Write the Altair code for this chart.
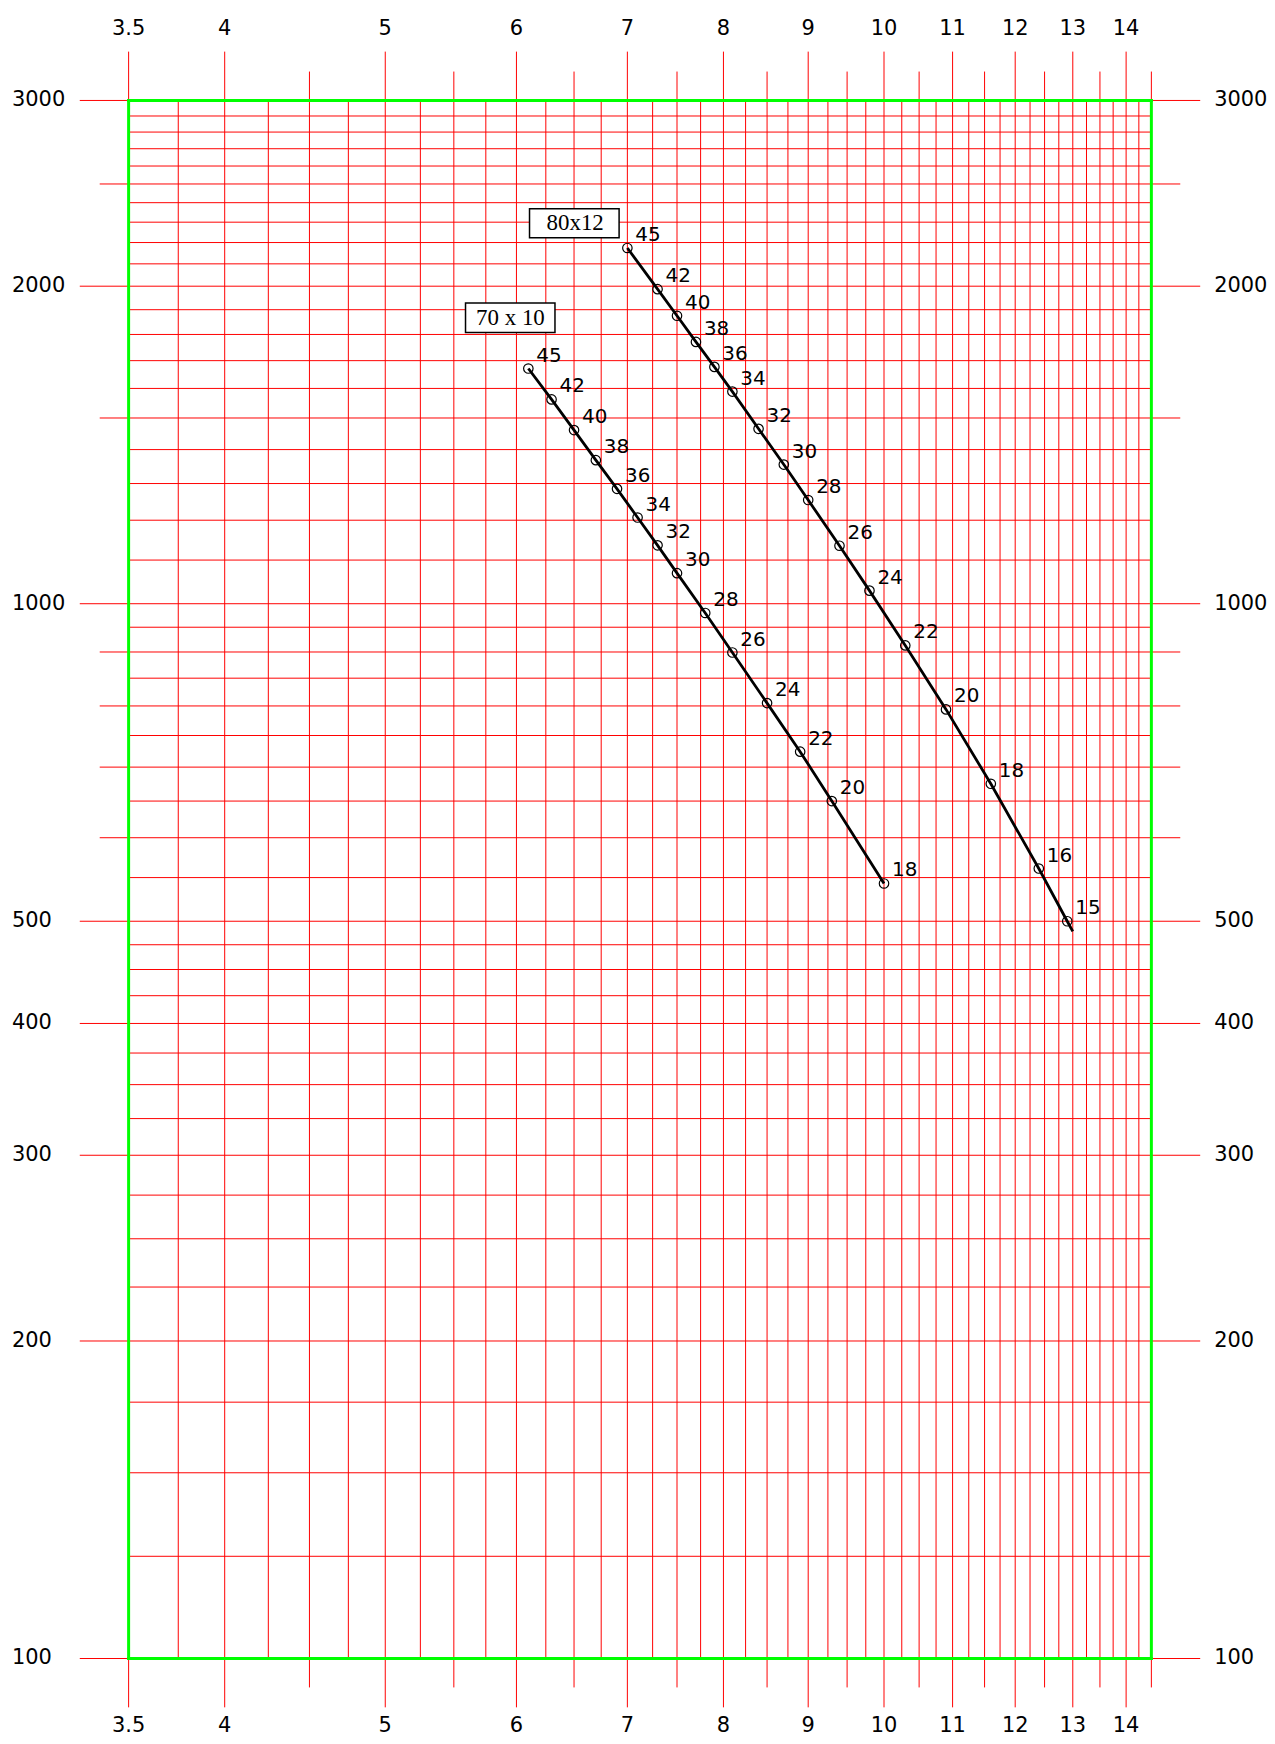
import altair as alt
import pandas as pd

W, H = 1026, 1563

# ---- grid values ----
x_major = [3.5, 4, 5, 6, 7, 8, 9, 10, 11, 12, 13, 14]
x_major_labels = ["3.5", "4", "5", "6", "7", "8", "9", "10", "11", "12", "13", "14"]
x_half = [4.5, 5.5, 6.5, 7.5, 8.5, 9.5, 10.5, 11.5, 12.5, 13.5, 14.5]
x_quarter = [3.75, 4.25, 4.75, 5.25, 5.75, 6.25, 6.75, 7.25, 7.75, 8.25, 8.75,
             9.25, 9.75, 10.25, 10.75, 11.25, 11.75, 12.25, 12.75, 13.25, 13.75, 14.25]

y_major = [100, 200, 300, 400, 500, 1000, 2000, 3000]
y_major_labels = ["100", "200", "300", "400", "500", "1000", "2000", "3000"]
y_half = [600, 700, 800, 900, 1500, 2500]
y_minor = [125, 150, 175, 225, 250, 275, 325, 350, 375, 425, 450, 475,
           550, 650, 750, 850, 950, 1100, 1200, 1300, 1400, 1600, 1700, 1800,
           1900, 2100, 2200, 2300, 2400, 2600, 2700, 2800, 2900]

frame_x = [3.5, 14.5]
frame_y = [100, 3000]

# ---- series ----
s70_lbl = ["45", "42", "40", "38", "36", "34", "32", "30", "28", "26", "24", "22", "20", "18"]
s70_x = [6.1, 6.3, 6.5, 6.7, 6.9, 7.1, 7.3, 7.5, 7.8, 8.1, 8.5, 8.9, 9.3, 10.0]
s70_y = [1671, 1562, 1461, 1368, 1285, 1207, 1136, 1069, 980, 899, 805, 724, 650, 543]

s80_lbl = ["45", "42", "40", "38", "36", "34", "32", "30", "28", "26", "24", "22", "20", "18", "16", "15"]
s80_x = [7.0, 7.3, 7.5, 7.7, 7.9, 8.1, 8.4, 8.7, 9.0, 9.4, 9.8, 10.3, 10.9, 11.6, 12.4, 12.9]
s80_y = [2174, 1987, 1875, 1771, 1677, 1589, 1465, 1355, 1254, 1135, 1029, 913, 794, 675, 561, 500]
s80_tail_x = [13.0]
s80_tail_y = [489]

box_name = ["70 x 10", "80x12"]
box_x1 = [5.59, 6.11]
box_x2 = [6.33, 6.92]
box_y1 = [1928, 2368]
box_y2 = [1808, 2223]
box_tx = [5.95, 6.51]
box_ty = [1867, 2295]

RED = "#ff0000"
GREEN = "#00ff00"
FONT = "DejaVu Sans"

xs = alt.Scale(type="log", domain=[3.5, 14.5], nice=False)
ys = alt.Scale(type="log", domain=[100, 3000], nice=False)


def X(f):
    return alt.X(f, type="quantitative", scale=xs, axis=None)


def Y(f):
    return alt.Y(f, type="quantitative", scale=ys, axis=None)


def vrules(vals, ext):
    return alt.Chart(pd.DataFrame({"v": vals})).mark_rule(color=RED, strokeWidth=1).encode(
        x=X("v"), y=alt.value(-ext), y2=alt.value(H + ext))


def hrules(vals, ext):
    return alt.Chart(pd.DataFrame({"v": vals})).mark_rule(color=RED, strokeWidth=1).encode(
        y=Y("v"), x=alt.value(-ext), x2=alt.value(W + ext))


layers = [
    vrules(x_quarter, 0), vrules(x_half, 29), vrules(x_major, 49),
    hrules(y_minor, 0), hrules(y_half, 29), hrules(y_major, 49),
]

# green frame
layers.append(alt.Chart(pd.DataFrame({"v": frame_x})).mark_rule(
    color=GREEN, strokeWidth=3, strokeCap="square").encode(
    x=X("v"), y=alt.value(0), y2=alt.value(H)))
layers.append(alt.Chart(pd.DataFrame({"v": frame_y})).mark_rule(
    color=GREEN, strokeWidth=3, strokeCap="square").encode(
    y=Y("v"), x=alt.value(0), x2=alt.value(W)))

df70 = pd.DataFrame({"x": s70_x, "y": s70_y, "lbl": s70_lbl})
df80 = pd.DataFrame({"x": s80_x, "y": s80_y, "lbl": s80_lbl})
df80_line = pd.DataFrame({"x": s80_x + s80_tail_x, "y": s80_y + s80_tail_y})

for dline, dpts in [(df70, df70), (df80_line, df80)]:
    layers.append(alt.Chart(dline).mark_line(color="black", strokeWidth=2.8).encode(
        x=X("x"), y=Y("y")))
    layers.append(alt.Chart(dpts).mark_point(
        shape="circle", filled=False, color="black", size=90, strokeWidth=1.2, opacity=1).encode(
        x=X("x"), y=Y("y")))
    layers.append(alt.Chart(dpts).mark_text(
        align="left", baseline="middle", dx=8, dy=-13, font=FONT, fontSize=20, color="black").encode(
        x=X("x"), y=Y("y"), text="lbl:N"))

# boxed series names
dbox = pd.DataFrame({"name": box_name, "x1": box_x1, "x2": box_x2, "y1": box_y1, "y2": box_y2,
                     "tx": box_tx, "ty": box_ty})
layers.append(alt.Chart(dbox).mark_rect(fill="white", stroke="black", strokeWidth=1.5).encode(
    x=X("x1"), x2="x2", y=Y("y1"), y2="y2"))
layers.append(alt.Chart(dbox).mark_text(
    font="Liberation Serif", fontSize=23, align="center", baseline="middle", color="black").encode(
    x=X("tx"), y=Y("ty"), text="name:N"))

# axis labels
dxl = pd.DataFrame({"v": x_major, "t": x_major_labels})
dyl = pd.DataFrame({"v": y_major, "t": y_major_labels})
for ypos in [-72, H + 68]:
    layers.append(alt.Chart(dxl).mark_text(
        font=FONT, fontSize=21, align="center", baseline="middle", color="black").encode(
        x=X("v"), y=alt.value(ypos), text="t:N"))
for xpos in [-117, W + 63]:
    layers.append(alt.Chart(dyl).mark_text(
        font=FONT, fontSize=21, align="left", baseline="middle", color="black").encode(
        y=Y("v"), x=alt.value(xpos), text="t:N"))

chart = alt.layer(*layers).properties(
    width=W, height=H,
    padding={"left": 121, "top": 90, "right": 116, "bottom": 83},
    autosize=alt.AutoSizeParams(type="none"),
).configure_view(stroke=None)

chart.save("out.html", embed_options={"renderer": "svg", "actions": False})
